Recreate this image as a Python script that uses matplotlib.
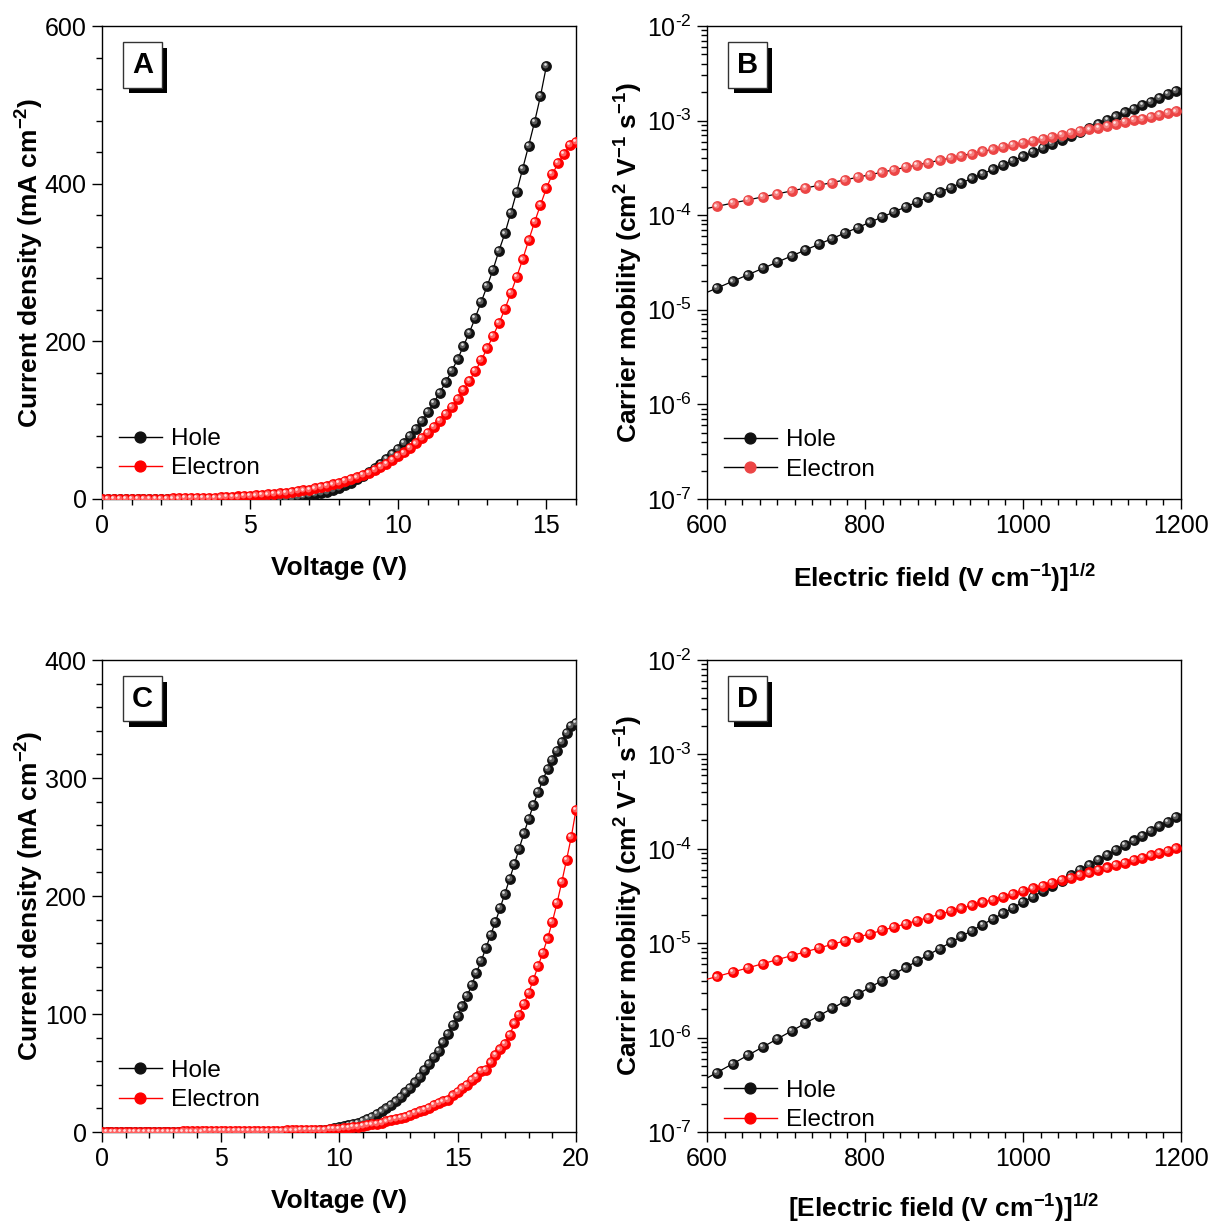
import numpy as np
import matplotlib
matplotlib.use('Agg')
import matplotlib.pyplot as plt
import matplotlib.patheffects as pe
from matplotlib.lines import Line2D
from matplotlib.ticker import AutoMinorLocator, LogLocator, NullFormatter, FuncFormatter
from matplotlib.transforms import offset_copy

plt.rcParams['font.family'] = ['Liberation Sans', 'DejaVu Sans']
plt.rcParams['mathtext.fontset'] = 'custom'
plt.rcParams['mathtext.rm'] = 'Liberation Sans'
plt.rcParams['mathtext.bf'] = 'Liberation Sans:bold'
plt.rcParams['mathtext.it'] = 'Liberation Sans:italic'

# ---- panel A : J-V, 0.2 V steps ----
volt_a_hole = np.round(np.arange(0, 15.01, 0.2), 1)
volt_a_elec = np.round(np.arange(0, 16.01, 0.2), 1)
j_a_hole = [0.0, 0.0, 0.0, 0.0, 0.0, 0.0, 0.0, 0.0, 0.0, 0.0,
            0.0, 0.0, 0.0, 0.0, 0.0, 0.0, 0.0, 0.1, 0.1, 0.1,
            0.1, 0.1, 0.2, 0.2, 0.3, 0.3, 0.4, 0.5, 0.6, 0.8,
            1.0, 1.4, 1.9, 2.5, 3.4, 4.5, 5.8, 7.4, 9.3, 11.5,
            14.2, 17.3, 20.8, 24.8, 29.3, 34.0, 39.0, 45.0, 51.0, 57.0,
            64.0, 71.5, 80.0, 89.0, 99.0, 110, 122, 135, 148, 162,
            177, 194, 211, 230, 250, 270, 291, 315, 337, 363,
            390, 419, 448, 478, 511, 549]
j_a_elec = [0.3, 0.3, 0.3, 0.3, 0.3, 0.4, 0.4, 0.4, 0.5, 0.5,
            0.6, 0.6, 0.7, 0.8, 0.9, 1.0, 1.1, 1.3, 1.5, 1.8,
            2.1, 2.4, 2.8, 3.2, 3.6, 4.1, 4.6, 5.2, 5.8, 6.5,
            7.2, 8.0, 9.0, 10.0, 11.0, 12.0, 13.5, 15.0, 16.5, 18.5,
            20.5, 22.5, 25.0, 27.5, 30.5, 33.5, 37.0, 41.0, 45.0, 49.5,
            54.5, 59, 65, 70.5, 77, 84, 91, 99, 108, 117,
            127, 138, 150, 162, 176, 191, 207, 223, 241, 261,
            282, 304, 328, 351, 373, 394, 412, 426, 438, 449,
            453]

# ---- panel C : J-V, 0.2 V steps ----
volt_c = np.round(np.arange(0, 20.01, 0.2), 1)
j_c_hole = [0.0, 0.0, 0.0, 0.0, 0.0, 0.0, 0.0, 0.0, 0.0, 0.0,
            0.0, 0.0, 0.0, 0.0, 0.0, 0.0, 0.0, 0.0, 0.0, 0.0,
            0.0, 0.0, 0.1, 0.1, 0.1, 0.1, 0.1, 0.1, 0.1, 0.1,
            0.2, 0.2, 0.2, 0.2, 0.2, 0.3, 0.3, 0.35, 0.4, 0.45,
            0.5, 0.6, 0.7, 0.8, 0.9, 1.1, 1.4, 1.9, 2.6, 3.2,
            4.0, 4.8, 5.8, 6.8, 7.9, 9.2, 10.8, 12.7, 15.0, 17.5,
            20.0, 23.0, 26.0, 29.5, 33.5, 37.5, 42.0, 47.0, 52.5, 58.0,
            63.5, 69.0, 76.0, 83.0, 90.5, 98.5, 106.5, 115, 124.5, 135,
            145, 156, 167, 178, 190, 202, 214.5, 227, 240, 253,
            265, 277, 288, 298, 308, 315.5, 323, 330.5, 338, 344,
            347]
j_c_elec = [0.3, 0.3, 0.3, 0.3, 0.3, 0.3, 0.3, 0.3, 0.3, 0.3,
            0.4, 0.4, 0.4, 0.4, 0.4, 0.4, 0.4, 0.5, 0.5, 0.5,
            0.5, 0.5, 0.6, 0.6, 0.6, 0.6, 0.7, 0.7, 0.7, 0.8,
            0.8, 0.8, 0.9, 0.9, 1.0, 1.0, 1.1, 1.1, 1.2, 1.3,
            1.3, 1.4, 1.5, 1.6, 1.7, 1.8, 1.9, 2.1, 2.3, 2.6,
            2.9, 3.2, 3.6, 4.0, 4.5, 5.0, 5.8, 6.5, 7.2, 8.0,
            9.0, 10.0, 11.0, 12.0, 13.0, 14.5, 16.0, 17.5, 19.0, 20.5,
            23.0, 24.5, 26.0, 27.0, 31.0, 34.0, 37.0, 40.0, 44.0, 47.0,
            52.0, 52.5, 59.0, 65.0, 70.0, 75.0, 82.0, 92.0, 99.5, 108.5,
            118, 129, 140.5, 152, 164, 178, 194, 212, 230.5, 250,
            273]

# ---- panels B and D : mobility vs sqrt(field) ----
field_sqrt = [612.4, 632.5, 651.9, 670.8, 689.2, 707.1, 724.6, 741.6, 758.3, 774.6,
              790.6, 806.2, 821.6, 836.7, 851.5, 866.0, 880.3, 894.4, 908.3, 922.0,
              935.4, 948.7, 961.8, 974.7, 987.4, 1000.0, 1012.4, 1024.7, 1036.8, 1048.8,
              1060.7, 1072.4, 1084.0, 1095.4, 1106.8, 1118.0, 1129.2, 1140.2, 1151.1, 1161.9,
              1172.6, 1183.2, 1193.7]
mu_b_hole = [1.69e-5, 2.00e-5, 2.35e-5, 2.75e-5, 3.20e-5, 3.71e-5, 4.29e-5, 4.93e-5, 5.66e-5, 6.47e-5,
             7.40e-5, 8.41e-5, 9.55e-5, 1.08e-4, 1.22e-4, 1.38e-4, 1.55e-4, 1.75e-4, 1.96e-4, 2.19e-4,
             2.45e-4, 2.73e-4, 3.05e-4, 3.39e-4, 3.77e-4, 4.18e-4, 4.63e-4, 5.13e-4, 5.66e-4, 6.25e-4,
             6.90e-4, 7.60e-4, 8.36e-4, 9.18e-4, 1.01e-3, 1.11e-3, 1.22e-3, 1.33e-3, 1.46e-3, 1.59e-3,
             1.74e-3, 1.90e-3, 2.07e-3]
mu_b_elec = [1.24e-4, 1.34e-4, 1.45e-4, 1.56e-4, 1.68e-4, 1.81e-4, 1.94e-4, 2.07e-4, 2.21e-4, 2.36e-4,
             2.52e-4, 2.68e-4, 2.84e-4, 3.02e-4, 3.21e-4, 3.40e-4, 3.60e-4, 3.80e-4, 4.02e-4, 4.25e-4,
             4.48e-4, 4.72e-4, 4.97e-4, 5.24e-4, 5.51e-4, 5.78e-4, 6.08e-4, 6.38e-4, 6.70e-4, 7.03e-4,
             7.36e-4, 7.71e-4, 8.07e-4, 8.45e-4, 8.85e-4, 9.25e-4, 9.66e-4, 1.01e-3, 1.05e-3, 1.10e-3,
             1.15e-3, 1.20e-3, 1.25e-3]
mu_d_hole = [4.26e-7, 5.28e-7, 6.50e-7, 7.96e-7, 9.70e-7, 1.175e-6, 1.42e-6, 1.70e-6, 2.04e-6, 2.43e-6,
             2.88e-6, 3.40e-6, 4.02e-6, 4.72e-6, 5.53e-6, 6.46e-6, 7.53e-6, 8.77e-6, 1.02e-5, 1.18e-5,
             1.36e-5, 1.57e-5, 1.81e-5, 2.07e-5, 2.38e-5, 2.72e-5, 3.11e-5, 3.55e-5, 4.04e-5, 4.59e-5,
             5.22e-5, 5.92e-5, 6.70e-5, 7.57e-5, 8.56e-5, 9.66e-5, 1.09e-4, 1.225e-4, 1.38e-4, 1.55e-4,
             1.73e-4, 1.94e-4, 2.17e-4]
mu_d_elec = [4.44e-6, 4.94e-6, 5.48e-6, 6.07e-6, 6.70e-6, 7.38e-6, 8.11e-6, 8.89e-6, 9.72e-6, 1.06e-5,
             1.16e-5, 1.26e-5, 1.37e-5, 1.48e-5, 1.60e-5, 1.73e-5, 1.87e-5, 2.02e-5, 2.18e-5, 2.34e-5,
             2.52e-5, 2.71e-5, 2.90e-5, 3.11e-5, 3.33e-5, 3.56e-5, 3.81e-5, 4.07e-5, 4.35e-5, 4.64e-5,
             4.94e-5, 5.27e-5, 5.61e-5, 5.96e-5, 6.34e-5, 6.73e-5, 7.15e-5, 7.59e-5, 8.04e-5, 8.53e-5,
             9.03e-5, 9.55e-5, 1.01e-4]

BLACK = ('#111111', '#5c5c5c', '#e0e0e0')
RED = ('#ff0000', '#ff6060', '#ffe0e0')
SOFT_RED = ('#ec4545', '#f58080', '#ffe4e4')
MS = 7.8

fig = plt.figure(figsize=(12.08, 12.23), dpi=100)
W, H = 1208, 1223


def add_axes(left, top, right, bottom):
    return fig.add_axes([left / W, 1 - bottom / H, (right - left) / W, (bottom - top) / H])


def balls(ax, x, y, cols, z):
    # shaded sphere look: base disc + two offset highlights
    ax.plot(x, y, 'o', color=cols[0], ms=MS, mew=0, zorder=z)
    t1 = offset_copy(ax.transData, fig=fig, x=-0.7, y=0.7, units='points')
    ax.plot(x, y, 'o', color=cols[1], ms=MS * 0.55, mew=0, transform=t1, zorder=z + 0.1)
    t2 = offset_copy(ax.transData, fig=fig, x=-1.3, y=1.3, units='points')
    ax.plot(x, y, 'o', color=cols[2], ms=MS * 0.25, mew=0, transform=t2, zorder=z + 0.2)


def style(ax):
    for s in ax.spines.values():
        s.set_linewidth(1.0)
    ax.tick_params(which='both', direction='out', top=False, right=False, labelsize=18)
    ax.tick_params(which='major', length=7, width=1.0, pad=4)
    ax.tick_params(which='minor', length=4, width=1.0)


def panel_label(ax, s):
    t = ax.text(0.085, 0.918, s, transform=ax.transAxes, ha='center', va='center', fontsize=21,
                fontweight='bold', color='black', zorder=10,
                bbox=dict(boxstyle='square,pad=0.3', fc='white', ec='#333333', lw=1))
    t.get_bbox_patch().set_path_effects(
        [pe.SimplePatchShadow(offset=(4, -4), shadow_rgbFace='black', alpha=1), pe.Normal()])


def legend(ax, line_cols, mark_cols, anchor, hl):
    handles = [Line2D([], [], color=lc, lw=1, marker='o', ms=MS, mfc=mc[0], mec=mc[0])
               for lc, mc in zip(line_cols, mark_cols)]
    ax.legend(handles, ['Hole', 'Electron'], loc='lower left', bbox_to_anchor=anchor,
              frameon=False, fontsize=17.5, handlelength=hl, handletextpad=0.35,
              labelspacing=0.3, borderpad=0, borderaxespad=0, numpoints=1)


jlabel = r'Current density (mA cm$^{\mathbf{-2}}$)'
mulabel = r'Carrier mobility (cm$^{\mathbf{2}}$ V$^{\mathbf{-1}}$ s$^{\mathbf{-1}}$)'
logfmt = FuncFormatter(lambda v, p: r'$10^{\text{-%d}}$' % abs(int(round(np.log10(v)))))

# ---------- A ----------
ax = add_axes(102, 26, 576, 499)
ax.plot(volt_a_hole, j_a_hole, '-', color='black', lw=0.9, zorder=2)
balls(ax, volt_a_hole, j_a_hole, BLACK, 3)
ax.plot(volt_a_elec, j_a_elec, '-', color='red', lw=0.9, zorder=4)
balls(ax, volt_a_elec, j_a_elec, RED, 5)
ax.set_xlim(0, 16)
ax.set_ylim(0, 600)
ax.set_xticks([0, 5, 10, 15])
ax.set_yticks([0, 200, 400, 600])
ax.xaxis.set_minor_locator(AutoMinorLocator(5))
ax.yaxis.set_minor_locator(AutoMinorLocator(5))
style(ax)
ax.set_xlabel('Voltage (V)', fontsize=19, fontweight='bold', labelpad=13)
ax.set_ylabel(jlabel, fontsize=19, fontweight='bold', labelpad=-1)
legend(ax, ['black', 'red'], [BLACK, RED], (0.035, 0.0415), 1.8)
panel_label(ax, 'A')

# ---------- C ----------
ax = add_axes(102, 660, 576, 1132)
ax.plot(volt_c, j_c_hole, '-', color='black', lw=0.9, zorder=2)
balls(ax, volt_c, j_c_hole, BLACK, 3)
ax.plot(volt_c, j_c_elec, '-', color='red', lw=0.9, zorder=4)
balls(ax, volt_c, j_c_elec, RED, 5)
ax.set_xlim(0, 20)
ax.set_ylim(0, 400)
ax.set_xticks([0, 5, 10, 15, 20])
ax.set_yticks([0, 100, 200, 300, 400])
ax.xaxis.set_minor_locator(AutoMinorLocator(5))
ax.yaxis.set_minor_locator(AutoMinorLocator(5))
style(ax)
ax.set_xlabel('Voltage (V)', fontsize=19, fontweight='bold', labelpad=12.5)
ax.set_ylabel(jlabel, fontsize=19, fontweight='bold', labelpad=-1)
legend(ax, ['black', 'red'], [BLACK, RED], (0.035, 0.044), 1.8)
panel_label(ax, 'C')

# ---------- B and D ----------
for top, bot, hole, elec, ecol, eline, xlab, lanchor, xpad in [
        (26, 499, mu_b_hole, mu_b_elec, SOFT_RED, 'black',
         r'Electric field (V cm$^{\mathbf{-1}}$)]$^{\mathbf{1/2}}$', (0.035, 0.039), 17),
        (660, 1132, mu_d_hole, mu_d_elec, RED, 'red',
         r'[Electric field (V cm$^{\mathbf{-1}}$)]$^{\mathbf{1/2}}$', (0.035, 0.0015), 14.5)]:
    ax = add_axes(707, top, 1181, bot)
    ax.set_yscale('log')
    xf = np.array([600, 1200])
    for yv, lc, cols, z in [(hole, 'black', BLACK, 2), (elec, eline, ecol, 4)]:
        k, b = np.polyfit(field_sqrt, np.log10(yv), 1)
        ax.plot(xf, 10 ** (k * xf + b), '-', color=lc, lw=0.9, zorder=z)
        balls(ax, field_sqrt, yv, cols, z + 1)
    ax.set_xlim(600, 1200)
    ax.set_ylim(1e-7, 1e-2)
    ax.set_xticks([600, 800, 1000, 1200])
    ax.xaxis.set_minor_locator(AutoMinorLocator(9))
    ax.yaxis.set_major_locator(LogLocator(base=10, numticks=20))
    ax.yaxis.set_minor_locator(LogLocator(base=10, subs=np.arange(2, 10), numticks=100))
    ax.yaxis.set_major_formatter(logfmt)
    ax.yaxis.set_minor_formatter(NullFormatter())
    style(ax)
    ax.set_xlabel(xlab, fontsize=19, fontweight='bold', labelpad=xpad)
    ax.set_ylabel(mulabel, fontsize=19, fontweight='bold', labelpad=1)
    legend(ax, ['black', eline], [BLACK, ecol], lanchor, 2.2)
    panel_label(ax, 'B' if top < 300 else 'D')

fig.savefig('out.png', dpi=100)
